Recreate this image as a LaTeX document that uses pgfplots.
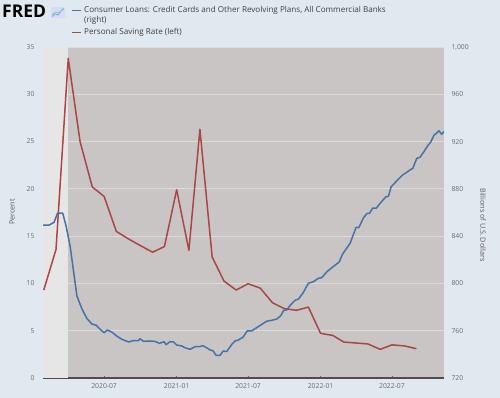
\documentclass[border=0pt]{standalone}
\usepackage{pgfplots}
\pgfplotsset{compat=1.18}
\usepackage{pgfplotstable}
\usepackage{fontspec}
\setmainfont{Open Sans}
\definecolor{bgc}{HTML}{E1E9F0}
\definecolor{plotbg}{HTML}{C9C5C5}
\definecolor{recess}{HTML}{E6E6E6}
\definecolor{gridc}{HTML}{DEDBDB}
\definecolor{axisdark}{HTML}{4D4D4D}
\definecolor{leftline}{HTML}{B8B4B4}
\definecolor{tickc}{HTML}{6B6B6B}
\definecolor{labc}{HTML}{595959}
\definecolor{legc}{HTML}{404040}
\definecolor{fblue}{HTML}{4572A7}
\definecolor{fred}{HTML}{AA4643}

\pgfplotstableread{
day value
27 849.4
43 849.4
55 851.7
64 859.5
77 859.5
86 848
96 831
104 811.4
113 789.4
125 779
138 770.5
151 765.7
162 764.6
172 761.2
182 758.3
190 760.6
202 758.7
214 755.5
227 752.7
244 750.5
256 751.6
269 751.6
273 753.2
282 751
294 751.3
311 751
322 749.3
334 750.7
339 748.2
349 750.7
358 750.5
366 747.9
379 747.1
387 745.6
400 744.3
413 746.5
424 746.5
432 747.3
442 745.6
451 743.7
458 743.1
466 739.2
476 739.2
484 742.8
493 742.4
506 748.5
514 751.3
522 752.1
534 754.4
545 759.8
556 759.8
569 762.6
582 765.4
594 768
607 768.8
620 769.9
630 772.7
638 777.5
645 777.5
654 781.5
666 785.7
675 786.8
686 791.7
700 800.1
713 801.5
725 804.3
734 804.9
747 809.9
763 814.2
778 818.1
787 824.9
806 834
821 847.5
828 847.2
839 855.1
849 859.3
855 859.3
863 863.6
872 863.6
882 867.8
897 873.4
903 873.6
910 881.8
920 885.2
928 888.1
939 891.7
948 893.7
958 896
965 897.4
975 905.9
983 906.7
993 911.4
1004 917.1
1010 919.4
1019 925.6
1025 927
1031 929.2
1038 926.2
1044 928.4
}\loans

\pgfplotstableread{
day value
29 9.3
60 13.6
91 33.8
121 25.0
152 20.2
182 19.2
213 15.5
244 14.7
274 14.0
305 13.3
335 13.9
366 19.9
397 13.5
425 26.3
456 12.8
486 10.25
517 9.3
547 9.97
578 9.5
609 7.96
639 7.33
670 7.16
700 7.5
731 4.72
762 4.5
790 3.8
821 3.7
851 3.6
882 3.03
912 3.5
943 3.4
974 3.1
}\saving

\begin{document}
\begin{tikzpicture}
\fill[bgc] (0pt,0pt) rectangle (500pt,398pt);

\begin{axis}[
  at={(43pt,20pt)}, anchor=south west,
  width=401pt, height=331pt, scale only axis,
  xmin=27, xmax=1044, ymin=0, ymax=35,
  axis background/.style={fill=plotbg},
  ytick={0,5,...,35},
  xtick={182,366,547,731,912},
  xticklabels={2020-07,2021-01,2021-07,2022-01,2022-07},
  ymajorgrids,
  grid style={gridc, line width=0.9pt},
  axis x line*=bottom, axis y line*=left,
  x axis line style={draw=axisdark, line width=1.6pt, -},
  y axis line style={draw=leftline, line width=1pt, -},
  ytick style={draw=none},
  xtick style={draw=tickc, line width=0.4pt},
  major tick length=2pt,
  tick label style={font=\fontsize{6.8}{7}\selectfont, text=tickc},
  yticklabel style={xshift=-5pt},
  xticklabel style={yshift=-2pt},
  /pgf/number format/assume math mode=true,
]
\addplot[fill=recess, draw=none] coordinates {(27,0) (27,35) (91,35) (91,0)} -- cycle;
\addplot[fred, line width=1.5pt, line join=round] table[x=day, y=value] {\saving};
\end{axis}

\begin{axis}[
  at={(43pt,20pt)}, anchor=south west,
  width=401pt, height=331pt, scale only axis,
  xmin=27, xmax=1044, ymin=720, ymax=1000,
  axis x line=none, axis y line*=right,
  y axis line style={draw=none},
  ytick={720,760,...,1000},
  ytick style={draw=none},
  tick label style={font=\fontsize{6.8}{7}\selectfont, text=tickc},
  yticklabel style={xshift=4pt},
  /pgf/number format/.cd, set thousands separator={,}, assume math mode=true,
]
\addplot[fblue, line width=1.5pt, line join=round] table[x=day, y=value] {\loans};
\end{axis}

\node[rotate=90, font=\fontsize{7.2}{8}\selectfont, text=labc] at (12pt,186pt) {Percent};
\node[rotate=-90, font=\fontsize{7.2}{8}\selectfont, text=labc] at (483pt,173pt) {Billions of U.S. Dollars};

% header
\node[anchor=west, inner sep=0pt, font=\fontsize{17.5}{17.5}\selectfont\bfseries, text=black] at (2pt,387pt) {FRED};
\fill[white!85!blue] (51pt,380pt) rectangle (65pt,391pt);
\draw[fblue!70, line width=0.7pt] (52pt,381.5pt) -- (55pt,384pt) -- (58pt,383pt) -- (61pt,387pt) -- (64pt,389.5pt);
\draw[green!50!teal!60, line width=0.7pt] (52pt,383.5pt) -- (56pt,386pt) -- (59pt,385pt) -- (64pt,390pt);

\draw[fblue, line width=1.5pt] (72pt,387.7pt) -- (81pt,387.7pt);
\node[anchor=west, inner sep=0pt, font=\fontsize{8.1}{9}\selectfont, text=legc] at (84pt,387.7pt) {Consumer Loans: Credit Cards and Other Revolving Plans, All Commercial Banks};
\node[anchor=west, inner sep=0pt, font=\fontsize{8.1}{9}\selectfont, text=legc] at (84pt,377.3pt) {(right)};
\draw[fred, line width=1.5pt] (72pt,365.7pt) -- (81pt,365.7pt);
\node[anchor=west, inner sep=0pt, font=\fontsize{8.1}{9}\selectfont, text=legc] at (84pt,365.7pt) {Personal Saving Rate (left)};
\end{tikzpicture}
\end{document}
